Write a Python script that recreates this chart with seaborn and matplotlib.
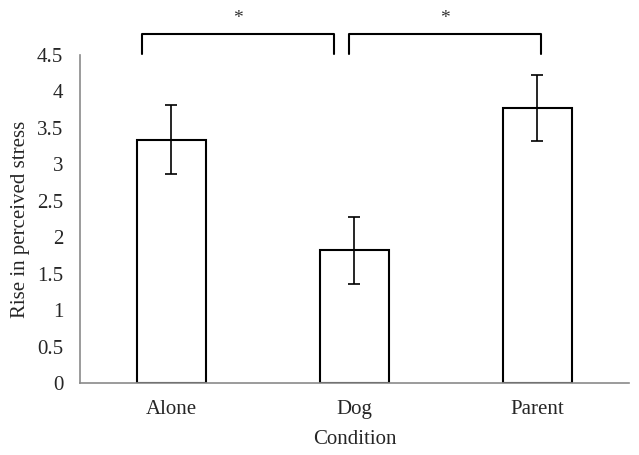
import pandas as pd
import numpy as np
import matplotlib
matplotlib.use("Agg")
import matplotlib.pyplot as plt
import seaborn as sns

# data
conditions = ["Alone", "Dog", "Parent"]
mean_stress = [3.34, 1.82, 3.77]
se_stress = [0.47, 0.46, 0.45]

# significance brackets (x in category units, y in data units)
bracket_x = [(-0.16, 0.89), (0.97, 2.02)]
bracket_labels = ["*", "*"]

df = pd.DataFrame({"Condition": conditions, "Stress": mean_stress})

sns.set_style("white")
plt.rcParams["font.family"] = ["Liberation Serif", "DejaVu Serif"]

fig = plt.figure(figsize=(6.39, 4.55), dpi=100)
ax = fig.add_axes([0.1252, 0.1582, 0.8588, 0.7209])

sns.barplot(data=df, x="Condition", y="Stress", color="white",
            edgecolor="black", linewidth=1.5, width=0.38,
            errorbar=None, ax=ax)

# error bars on top of the bars
centers = [p.get_x() + p.get_width() / 2 for p in ax.patches]
ax.errorbar(centers, mean_stress, yerr=se_stress, fmt="none",
            ecolor="black", elinewidth=1.2, capsize=4.3, capthick=1.2)

ax.set_xlim(-0.5, 2.5)
ax.set_ylim(0, 4.5)
ax.set_yticks(np.arange(0, 4.51, 0.5))
ax.set_yticklabels([f"{v:g}" for v in np.arange(0, 4.51, 0.5)])

ax.set_xticks([0.5, 1.5, 2.5], minor=True)
ax.tick_params(axis="x", which="major", length=0, labelsize=15, pad=12)
ax.tick_params(axis="x", which="minor", length=4, color="#8a8a8a", width=1)
ax.tick_params(axis="y", length=0, labelsize=15, pad=12)

for s in ["top", "right"]:
    ax.spines[s].set_visible(False)
for s in ["left", "bottom"]:
    ax.spines[s].set_color("#8a8a8a")
    ax.spines[s].set_linewidth(1.2)

ax.set_xlabel("Condition", fontsize=15, labelpad=8)
ax.set_ylabel("Rise in perceived stress", fontsize=15, labelpad=5)

# brackets above the axes
for (x0, x1), lab in zip(bracket_x, bracket_labels):
    ax.plot([x0, x0, x1, x1], [4.51, 4.79, 4.79, 4.51], color="black",
            lw=1.5, clip_on=False)
    ax.text((x0 + x1) / 2, 5.0, lab, ha="center", va="center",
            fontsize=14, color="#333333")

fig.savefig("out.png", dpi=100, facecolor="white")
